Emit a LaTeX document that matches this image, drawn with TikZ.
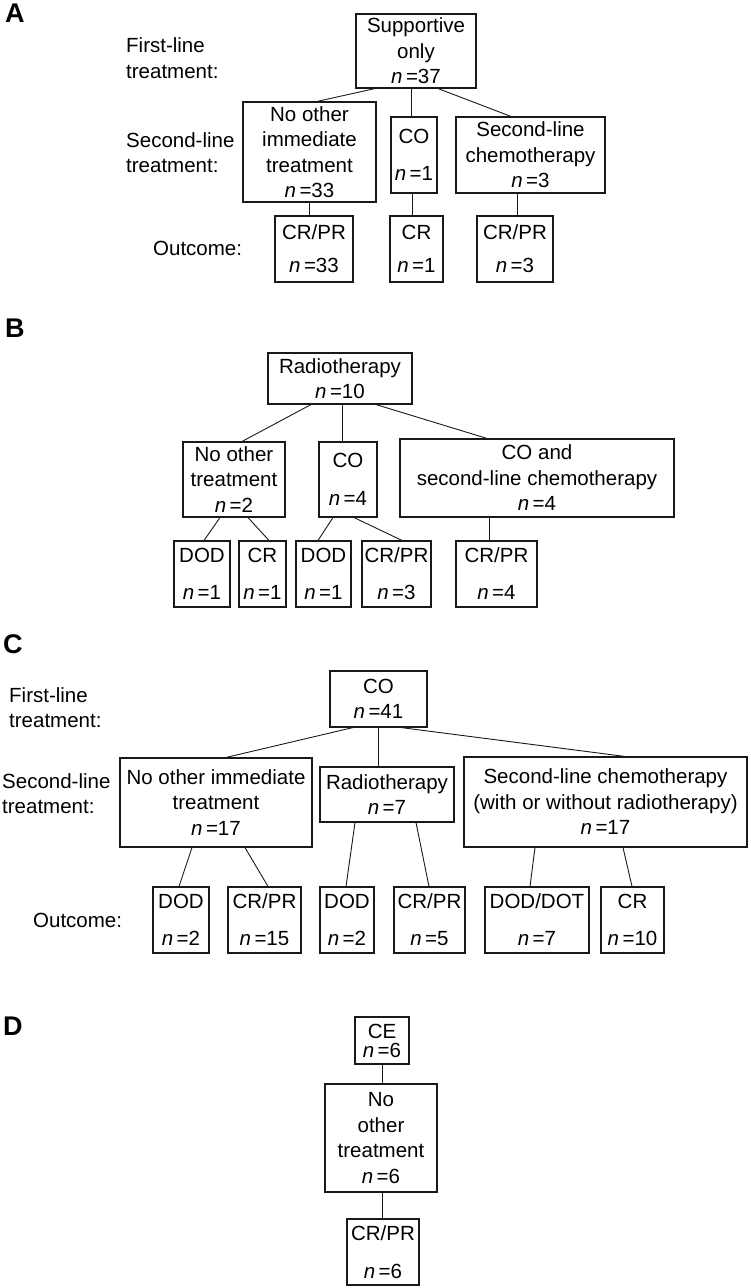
\documentclass[tikz,border=0pt]{standalone}
\usepackage{fontspec}
\setmainfont{Liberation Sans}
\newcommand\nval[1]{\textit{n}\,=#1}
\tikzset{
  bx/.style={draw=black!90, line width=1.1pt, inner sep=0pt, align=center, font=\fontsize{20.5}{25.5}\selectfont},
  lbl/.style={anchor=west, align=left, inner sep=0pt, font=\fontsize{20.5}{25.5}\selectfont},
  pl/.style={anchor=west, inner sep=0pt, font=\fontsize{27}{30}\selectfont\bfseries},
  ln/.style={line width=0.9pt, draw=black!90},
}
\begin{document}
\begin{tikzpicture}[x=1pt,y=-1pt]
\path[use as bounding box, fill=white] (0,0) rectangle (750,1288);

% ---------------- Panel A ----------------
\node[pl] (pA) at (5,13) {A};
\node[lbl] (fA) at (126,58) {First-line\\treatment:};
\node[lbl] (sA) at (126,152.5) {Second-line\\treatment:};
\node[lbl] (oA) at (153,248) {Outcome:};

\node[bx, minimum width=120pt, minimum height=74pt] (sup) at (416,51) {Supportive\\only\\\nval{37}};
\node[bx, minimum width=133pt, minimum height=100pt] (noo) at (309.5,152) {No other\\immediate\\treatment\\\nval{33}};
\node[bx, minimum width=46pt, minimum height=76pt] (coA) at (414,155) {CO\\[11.5pt]\nval{1}};
\node[bx, minimum width=149pt, minimum height=76pt] (scA) at (530.5,155) {Second-line\\chemotherapy\\\nval{3}};
\node[bx, minimum width=78pt, minimum height=66pt] (a1) at (314,249) {CR/PR\\[7.5pt]\nval{33}};
\node[bx, minimum width=53pt, minimum height=66pt] (a2) at (416.5,249) {CR\\[7.5pt]\nval{1}};
\node[bx, minimum width=76pt, minimum height=66pt] (a3) at (515,249) {CR/PR\\[7.5pt]\nval{3}};

\draw[ln] ([xshift=-41pt]sup.south) -- ([xshift=7.5pt]noo.north);
\draw[ln] ([xshift=-5pt]sup.south) -- ([xshift=-3pt]coA.north);
\draw[ln] ([xshift=22pt]sup.south) -- ([xshift=-19.5pt]scA.north);
\draw[ln] ([xshift=-0.5pt]noo.south) -- ([xshift=-5pt]a1.north);
\draw[ln] ([xshift=-2pt]coA.south) -- ([xshift=-4.5pt]a2.north);
\draw[ln] ([xshift=-13.5pt]scA.south) -- ([xshift=2pt]a3.north);

% ---------------- Panel B ----------------
\node[pl] (pB) at (5,328.5) {B};
\node[bx, minimum width=144pt, minimum height=51pt] (rad) at (340,378.5) {Radiotherapy\\\nval{10}};
\node[bx, minimum width=102pt, minimum height=75pt] (nob) at (234,479.5) {No other\\treatment\\\nval{2}};
\node[bx, minimum width=58pt, minimum height=75pt] (coB) at (348,479.5) {CO\\[12.5pt]\nval{4}};
\node[bx, minimum width=274pt, minimum height=78pt] (cob) at (537,478) {CO and\\second-line chemotherapy\\\nval{4}};
\node[bx, minimum width=56pt, minimum height=66pt] (b1) at (202,574) {DOD\\[11.5pt]\nval{1}};
\node[bx, minimum width=47pt, minimum height=66pt] (b2) at (262.5,574) {CR\\[11.5pt]\nval{1}};
\node[bx, minimum width=55pt, minimum height=66pt] (b3) at (323.5,574) {DOD\\[11.5pt]\nval{1}};
\node[bx, minimum width=69pt, minimum height=66pt] (b4) at (396.5,574) {CR/PR\\[11.5pt]\nval{3}};
\node[bx, minimum width=81pt, minimum height=66pt] (b5) at (496.5,574) {CR/PR\\[11.5pt]\nval{4}};

\draw[ln] ([xshift=-29pt]rad.south) -- ([xshift=8pt]nob.north);
\draw[ln] ([xshift=2pt]rad.south) -- ([xshift=-6pt]coB.north);
\draw[ln] ([xshift=36pt]rad.south) -- ([xshift=-50pt]cob.north);
\draw[ln] ([xshift=-14pt]nob.south) -- ([xshift=2pt]b1.north);
\draw[ln] ([xshift=14pt]nob.south) -- ([xshift=6.5pt]b2.north);
\draw[ln] ([xshift=-15pt]coB.south) -- ([xshift=-5.5pt]b3.north);
\draw[ln] ([xshift=6pt]coB.south) -- ([xshift=5.5pt]b4.north);
\draw[ln] ([xshift=-48pt]cob.south) -- ([xshift=-7.5pt]b5.north);

% ---------------- Panel C ----------------
\node[pl] (pC) at (3,644.5) {C};
\node[lbl] (fC) at (9,707.5) {First-line\\treatment:};
\node[lbl] (sC) at (2,793.5) {Second-line\\treatment:};
\node[lbl] (oC) at (33,920) {Outcome:};

\node[bx, minimum width=97pt, minimum height=56pt] (coC) at (378.5,699) {CO\\\nval{41}};
\node[bx, minimum width=192pt, minimum height=89pt] (noc) at (216,802.5) {No other immediate\\treatment\\\nval{17}};
\node[bx, minimum width=134pt, minimum height=55pt] (radC) at (387,794.5) {Radiotherapy\\\nval{7}};
\node[bx, minimum width=283pt, minimum height=90pt] (scC) at (605.5,802) {Second-line chemotherapy\\(with or without radiotherapy)\\\nval{17}};
\node[bx, minimum width=56pt, minimum height=66pt] (c1) at (181,920) {DOD\\[11.5pt]\nval{2}};
\node[bx, minimum width=73pt, minimum height=66pt] (c2) at (264.5,920) {CR/PR\\[11.5pt]\nval{15}};
\node[bx, minimum width=54pt, minimum height=66pt] (c3) at (347,920) {DOD\\[11.5pt]\nval{2}};
\node[bx, minimum width=71pt, minimum height=66pt] (c4) at (429.5,920) {CR/PR\\[11.5pt]\nval{5}};
\node[bx, minimum width=104pt, minimum height=66pt] (c5) at (537,920) {DOD/DOT\\[11.5pt]\nval{7}};
\node[bx, minimum width=63pt, minimum height=66pt] (c6) at (632.5,920) {CR\\[11.5pt]\nval{10}};

\draw[ln] ([xshift=-25.5pt]coC.south) -- ([xshift=10pt]noc.north);
\draw[ln] ([xshift=-0.5pt]coC.south) -- ([xshift=-9pt]radC.north);
\draw[ln] ([xshift=22.5pt]coC.south) -- ([xshift=19.5pt]scC.north);
\draw[ln] ([xshift=-24pt]noc.south) -- ([xshift=-2pt]c1.north);
\draw[ln] ([xshift=29pt]noc.south) -- ([xshift=3.5pt]c2.north);
\draw[ln] ([xshift=-32pt]radC.south) -- ([xshift=-1pt]c3.north);
\draw[ln] ([xshift=29pt]radC.south) -- ([xshift=-0.5pt]c4.north);
\draw[ln] ([xshift=-70.5pt]scC.south) -- ([xshift=-7pt]c5.north);
\draw[ln] ([xshift=17.5pt]scC.south) -- ([xshift=-0.5pt]c6.north);

% ---------------- Panel D ----------------
\node[pl] (pD) at (3,1026.5) {D};
\node[bx, minimum width=54pt, minimum height=47pt] (ce) at (382,1040.5) {CE\\[-6.5pt]\nval{6}};
\node[bx, minimum width=112pt, minimum height=108pt] (nod) at (381,1138) {No\\other\\treatment\\\nval{6}};
\node[bx, minimum width=72pt, minimum height=66pt] (crd) at (383,1252) {CR/PR\\[12.5pt]\nval{6}};

\draw[ln] (ce.south) -- ([xshift=1pt]nod.north);
\draw[ln] ([xshift=1pt]nod.south) -- ([xshift=-1pt]crd.north);
\end{tikzpicture}
\end{document}
